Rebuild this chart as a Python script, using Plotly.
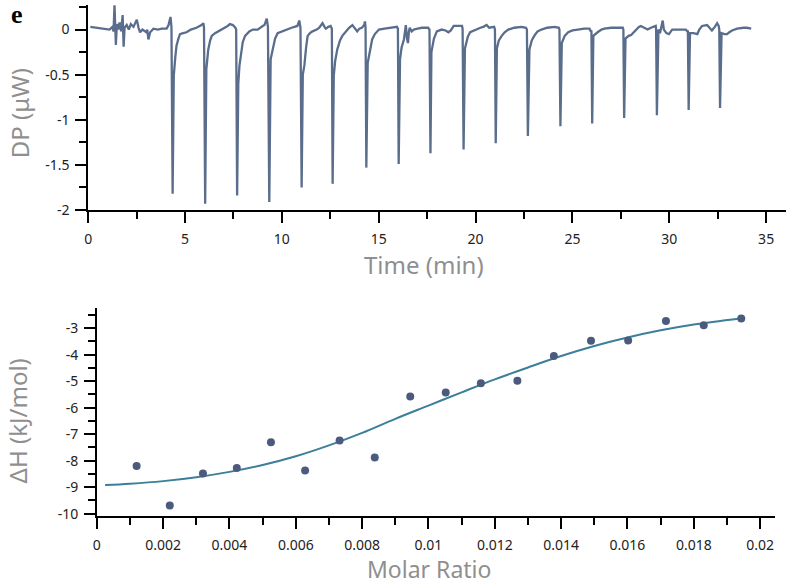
import plotly.graph_objects as go

# ---------------- Thermogram (top panel) ----------------
time_min = [
    0.11, 0.5, 0.8, 1.1, 1.25, 1.31, 1.36, 1.40, 1.43, 1.48, 1.55, 1.62, 1.70, 1.78, 1.83, 1.88, 1.99, 2.1, 2.2, 2.34,
    2.45, 2.51, 2.6, 2.68, 2.8, 3.0, 3.05, 3.11, 3.2, 3.37, 3.6, 3.8, 4.05, 4.15, 4.25,
    4.30, 4.36, 4.42, 4.50, 4.56, 4.66, 4.74, 4.9, 5.08, 5.3, 5.59, 5.85, 5.95,
    5.98, 6.04, 6.10, 6.16, 6.2, 6.3, 6.38, 6.55, 6.72, 6.9, 7.07, 7.2, 7.32, 7.47, 7.6,
    7.64, 7.69, 7.75, 7.81, 7.9, 7.98, 8.1, 8.32, 8.5, 8.75, 9.01, 9.1, 9.22,
    9.28, 9.35, 9.42, 9.5, 9.56, 9.65, 9.78, 10.0, 10.2, 10.5, 10.8, 10.9,
    10.96, 11.02, 11.08, 11.16, 11.25, 11.33, 11.45, 11.58, 11.8, 11.93, 12.03, 12.1, 12.2, 12.27, 12.4, 12.52,
    12.58, 12.62, 12.68, 12.75, 12.86, 13.0, 13.12, 13.3, 13.47, 13.64, 13.75, 13.89, 14.0, 14.13, 14.25, 14.29,
    14.32, 14.36, 14.43, 14.52, 14.66, 14.8, 15.01, 15.3, 15.68, 15.94,
    15.99, 16.03, 16.10, 16.18, 16.3, 16.4, 16.46, 16.51, 16.56, 16.6, 16.7, 16.81, 17.0, 17.23, 17.55,
    17.62, 17.67, 17.72, 17.85, 18.0, 18.25, 18.45, 18.6, 18.72, 18.87, 19.1, 19.3,
    19.33, 19.38, 19.45, 19.6, 19.72, 19.9, 20.06, 20.25, 20.4, 20.57, 20.7, 20.96,
    21.0, 21.04, 21.10, 21.2, 21.35, 21.5, 21.69, 22.0, 22.37, 22.6,
    22.65, 22.7, 22.78, 22.9, 23.06, 23.2, 23.4, 23.7, 24.08, 24.3,
    24.33, 24.38, 24.45, 24.6, 24.78, 25.0, 25.28, 25.6, 25.88, 25.95,
    25.98, 26.02, 26.08, 26.15, 26.3, 26.5, 26.65, 27.0, 27.4, 27.6,
    27.63, 27.67, 27.74, 27.9, 28.03, 28.28, 28.43, 28.53, 28.7, 28.88, 29.05, 29.22, 29.3,
    29.32, 29.36, 29.44, 29.52, 29.6, 29.66, 29.72, 29.85, 29.98, 30.15, 30.5, 30.85, 30.93,
    30.96, 31.0, 31.07, 31.25, 31.45, 31.55, 31.69, 31.95, 32.1, 32.2, 32.35, 32.47, 32.55,
    32.58, 32.62, 32.70, 32.85, 32.98, 33.1, 33.24, 33.5, 33.7, 33.84, 34.0, 34.23,
]
dp_uW = [
    0.03, 0.02, 0.01, 0.0, 0.03, -0.02, 0.27, 0.02, -0.17, 0.06, 0.0, 0.08, -0.02, 0.16, -0.19, 0.02, 0.05, 0.0, 0.06, 0.03,
    0.08, 0.11, 0.02, -0.03, 0.0, -0.03, 0.0, -0.11, -0.03, 0.01, 0.0, 0.01, 0.01, 0.05, 0.14,
    0.03, -1.82, -0.51, -0.30, -0.18, -0.10, -0.05, -0.04, -0.03, 0.0, 0.02, 0.05, 0.07,
    0.02, -1.93, -0.44, -0.30, -0.22, -0.12, -0.07, -0.04, -0.02, 0.0, 0.02, 0.04, 0.06, 0.05, 0.02,
    0.0, -1.84, -0.60, -0.40, -0.25, -0.14, -0.07, -0.02, 0.0, 0.0, 0.04, 0.05, 0.12,
    0.03, -1.91, -0.33, -0.25, -0.18, -0.10, -0.04, -0.02, 0.0, 0.02, 0.04, 0.10,
    0.02, -1.75, -0.50, -0.40, -0.20, -0.07, -0.04, -0.02, 0.0, 0.02, 0.05, 0.07, 0.03, 0.01, 0.03, 0.04,
    0.01, -1.71, -0.51, -0.35, -0.22, -0.12, -0.07, -0.02, 0.02, 0.05, 0.02, -0.02, 0.01, 0.02, 0.05, 0.09,
    0.02, -1.53, -0.37, -0.25, -0.11, -0.05, 0.0, 0.01, 0.02, 0.03,
    0.01, -1.49, -0.33, -0.20, -0.11, 0.05, -0.10, -0.15, -0.02, 0.02, -0.02, 0.0, 0.01, 0.02, 0.02,
    0.0, -1.37, -0.25, -0.10, -0.02, 0.0, -0.01, -0.03, -0.01, 0.04, 0.04, 0.04,
    0.01, -1.33, -0.21, -0.08, -0.03, -0.01, 0.0, 0.02, 0.03, 0.05, 0.02, 0.03,
    0.0, -1.26, -0.21, -0.12, -0.07, -0.03, 0.0, 0.02, 0.03, 0.02,
    0.0, -1.18, -0.22, -0.12, -0.06, -0.02, 0.0, 0.02, 0.03, 0.02,
    0.0, -1.07, -0.15, -0.07, -0.03, -0.01, 0.0, 0.01, 0.01, -0.02,
    -0.01, -1.04, -0.07, -0.06, -0.03, 0.0, 0.01, 0.02, 0.02, 0.02,
    0.0, -0.98, -0.10, -0.07, -0.06, 0.0, 0.03, 0.04, 0.02, 0.0, 0.02, 0.03, 0.04,
    0.0, -0.95, 0.0, -0.04, 0.04, 0.10, 0.0, -0.04, -0.05, 0.0, 0.0, 0.0, -0.02,
    -0.02, -0.89, -0.04, -0.04, -0.05, 0.0, 0.04, 0.05, 0.02, -0.01, 0.03, 0.07, 0.04,
    0.0, -0.87, -0.04, -0.05, -0.05, -0.03, -0.01, 0.01, 0.02, 0.02, 0.02, 0.01,
]

# ---------------- Binding isotherm (bottom panel) ----------------
molar_ratio = [0.0012, 0.0022, 0.0032, 0.00422, 0.00525, 0.00628, 0.00732, 0.00838, 0.00945,
               0.01052, 0.01158, 0.01268, 0.01378, 0.0149, 0.01602, 0.01716, 0.0183, 0.01943]
dH_kJmol = [-8.20, -9.69, -8.48, -8.27, -7.30, -8.37, -7.24, -7.88, -5.58,
            -5.43, -5.08, -4.98, -4.05, -3.47, -3.46, -2.73, -2.89, -2.63]

fit_ratio = [0.00025, 0.001, 0.002, 0.003, 0.004, 0.005, 0.006, 0.007, 0.008, 0.009,
             0.010, 0.011, 0.012, 0.013, 0.014, 0.015, 0.016, 0.017, 0.018, 0.0194]
fit_dH = [-8.92, -8.87, -8.77, -8.62, -8.42, -8.16, -7.83, -7.42, -6.95, -6.42,
          -5.92, -5.42, -4.93, -4.48, -4.05, -3.67, -3.35, -3.08, -2.86, -2.63]

# tick labels
top_x_ticks = [0, 5, 10, 15, 20, 25, 30, 35]
top_y_ticks = [0, -0.5, -1, -1.5, -2]
top_y_text = ["0", "-0.5", "-1", "-1.5", "-2"]
bot_x_ticks = [0, 0.002, 0.004, 0.006, 0.008, 0.01, 0.012, 0.014, 0.016, 0.018, 0.02]
bot_x_text = ["0", "0.002", "0.004", "0.006", "0.008", "0.01", "0.012", "0.014", "0.016", "0.018", "0.02"]
bot_y_ticks = [-3, -4, -5, -6, -7, -8, -9, -10]
bot_y_text = ["-3", "-4", "-5", "-6", "-7", "-8", "-9", "-10"]

W, H = 787, 588
TRACE_COLOR = "#5a6d8c"
MARKER_COLOR = "#4b5b7e"
FIT_COLOR = "#3b7f9a"
TITLE_COLOR = "#8f8f8f"
TICK_FONT = dict(family="Noto Sans", size=14, color="#222222")

fig = go.Figure()
fig.add_trace(go.Scatter(x=time_min, y=dp_uW, mode="lines",
                         line=dict(color=TRACE_COLOR, width=2.3),
                         xaxis="x", yaxis="y", showlegend=False))
fig.add_trace(go.Scatter(x=fit_ratio, y=fit_dH, mode="lines",
                         line=dict(color=FIT_COLOR, width=2, shape="spline"),
                         xaxis="x2", yaxis="y2", showlegend=False))
fig.add_trace(go.Scatter(x=molar_ratio, y=dH_kJmol, mode="markers",
                         marker=dict(color=MARKER_COLOR, size=8),
                         xaxis="x2", yaxis="y2", showlegend=False))

def ax(**kw):
    base = dict(showline=True, linecolor="black", linewidth=1.5, mirror=False,
                showgrid=False, zeroline=False, ticks="outside", ticklen=11,
                tickwidth=1.5, tickcolor="black", tickfont=TICK_FONT,
                tickmode="array")
    base.update(kw)
    return base

fig.update_layout(
    width=W, height=H,
    margin=dict(l=0, r=0, t=0, b=0),
    paper_bgcolor="white", plot_bgcolor="white",
    xaxis=ax(domain=[84.6 / W, 785.5 / W], range=[0, 36], anchor="y",
             tickvals=top_x_ticks, ticktext=[str(v) for v in top_x_ticks],
             ticklabelstandoff=4,
             minor=dict(dtick=2.5, tick0=0, ticks="outside", ticklen=7,
                        tickwidth=1.5, tickcolor="black")),
    yaxis=ax(domain=[(H - 213.3) / H, (H - 5) / H], range=[-2, 0.273], anchor="x",
             tickvals=top_y_ticks, ticktext=top_y_text, ticklabelstandoff=3,
             minor=dict(dtick=0.25, tick0=0, ticks="outside", ticklen=7,
                        tickwidth=1.5, tickcolor="black")),
    xaxis2=ax(domain=[93.3 / W, 775 / W], range=[0, 0.02045], anchor="y2",
              tickvals=bot_x_ticks, ticktext=bot_x_text, ticklabelstandoff=4,
              minor=dict(dtick=0.001, tick0=0, ticks="outside", ticklen=7,
                         tickwidth=1.5, tickcolor="black")),
    yaxis2=ax(domain=[(H - 524) / H, (H - 313) / H], range=[-10.085, -2.245], anchor="x2",
              tickvals=bot_y_ticks, ticktext=bot_y_text, ticklabelstandoff=3,
              minor=dict(dtick=0.5, tick0=0, ticks="outside", ticklen=7,
                         tickwidth=1.5, tickcolor="black")),
)

def ann(text, px, py, size, color, angle=0, family="Noto Sans", bold=False):
    if bold:
        text = "<b>" + text + "</b>"
    fig.add_annotation(text=text, xref="paper", yref="paper",
                       x=px / W, y=1 - py / H, xanchor="center", yanchor="middle",
                       showarrow=False, textangle=angle,
                       font=dict(family=family, size=size, color=color))

ann("Time (min)", 421.7, 268.5, 24, TITLE_COLOR)
ann("DP (μW)", 15, 115, 24, TITLE_COLOR, angle=-90)
ann("Molar Ratio", 427.5, 577.5, 23, TITLE_COLOR)
ann("ΔH (kJ/mol)", 14, 427, 24, TITLE_COLOR, angle=-90)
ann("e", 13, 15, 26, "black", family="Liberation Serif", bold=True)

fig.write_html("out.html", config={"displayModeBar": False},
               post_script="document.body.style.margin='0';document.body.style.overflow='hidden';")
